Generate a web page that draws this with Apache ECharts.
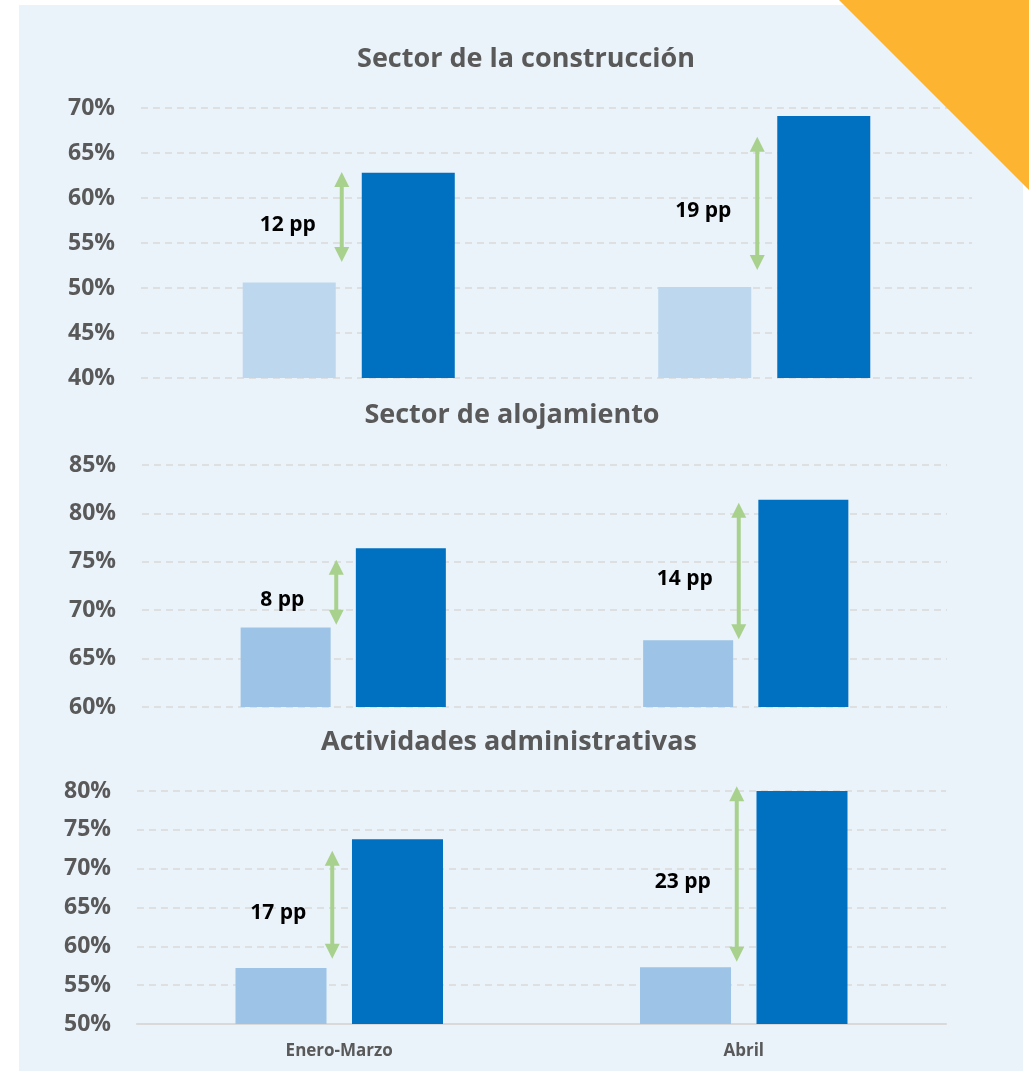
<!DOCTYPE html>
<html>
<head>
<meta charset="utf-8">
<script src="https://cdn.jsdelivr.net/npm/echarts/dist/echarts.min.js"></script>
<style>
html, body { margin: 0; padding: 0; background: #fff; }
#main { width: 1029px; height: 1071px; }
</style>
</head>
<body>
<div id="main"></div>
<script>
var categories = ['Enero-Marzo', 'Abril'];

// tasas por sector (%)
var construccionPrevio = [50.6, 50.1];
var construccionActual = [62.8, 69.1];
var alojamientoPrevio = [68.2, 66.9];
var alojamientoActual = [76.4, 81.4];
var administrativasPrevio = [57.2, 57.3];
var administrativasActual = [73.8, 80.0];

// flechas: [categoria, extremo superior, extremo inferior]
var construccionFlechas = [[0, 62.9, 52.9], [1, 66.8, 52.0]];
var alojamientoFlechas = [[0, 75.2, 68.5], [1, 81.1, 67.0]];
var administrativasFlechas = [[0, 72.3, 58.4], [1, 80.6, 58.0]];
var construccionDif = ['12 pp', '19 pp'];
var alojamientoDif = ['8 pp', '14 pp'];
var administrativasDif = ['17 pp', '23 pp'];

var titulos = ['Sector de la construcción', 'Sector de alojamiento', 'Actividades administrativas'];

var gris = '#595959';
var fuente = '"Open Sans", "Noto Sans", sans-serif';
var verde = '#A9D18E';

var chart = echarts.init(document.getElementById('main'));

function flecha(etiquetas) {
    return function (params, api) {
        var top = api.coord([api.value(0), api.value(1)]);
        var bottom = api.coord([api.value(0), api.value(2)]);
        var x = top[0] - 7;
        var head = 15, half = 7.5;
        var midY = (top[1] + bottom[1]) / 2;
        return {
            type: 'group',
            children: [
                {type: 'line', shape: {x1: x, y1: top[1] + head - 1, x2: x, y2: bottom[1] - head + 1},
                    style: {stroke: verde, lineWidth: 4}},
                {type: 'polygon', shape: {points: [[x, top[1]], [x - half, top[1] + head], [x + half, top[1] + head]]},
                    style: {fill: verde}},
                {type: 'polygon', shape: {points: [[x, bottom[1]], [x - half, bottom[1] - head], [x + half, bottom[1] - head]]},
                    style: {fill: verde}},
                {type: 'text', style: {text: etiquetas[params.dataIndex], x: x - 54, y: midY + 8,
                    align: 'center', verticalAlign: 'middle', fill: '#000',
                    fontSize: 21, fontWeight: 'bold', fontFamily: fuente}}
            ]
        };
    };
}

function ejeY(idx, min, max) {
    return {
        type: 'value', gridIndex: idx, min: min, max: max, interval: 5,
        axisLine: {show: false}, axisTick: {show: false},
        axisLabel: {formatter: '{value}%', color: gris, fontSize: 23, fontWeight: 'bold', fontFamily: fuente, margin: 26},
        splitLine: {lineStyle: {color: '#D9D9D9', type: [7, 5], width: 1.5}}
    };
}

function ejeX(idx, visible) {
    return {
        type: 'category', gridIndex: idx, data: categories,
        axisLine: {show: visible, lineStyle: {color: '#D9D9D9', width: 2}},
        axisTick: {show: false},
        axisLabel: {show: visible, color: gris, fontSize: 17, fontWeight: 'bold', fontFamily: fuente, margin: 19}
    };
}

function barras(idx, datos, color, ancho) {
    return {
        type: 'bar', xAxisIndex: idx, yAxisIndex: idx, data: datos,
        barWidth: ancho, barGap: '28%', itemStyle: {color: color}, silent: true
    };
}

function flechas(idx, datos, etiquetas) {
    return {
        type: 'custom', xAxisIndex: idx, yAxisIndex: idx, data: datos,
        renderItem: flecha(etiquetas), clip: false, z: 5, silent: true
    };
}

function titulo(texto, cx, cy) {
    return {
        text: texto, left: cx, top: cy - 11, textAlign: 'center', padding: 0,
        textStyle: {color: gris, fontSize: 27, fontWeight: 'bold', fontFamily: fuente}
    };
}

chart.setOption({
    animation: false,
    backgroundColor: '#fff',
    graphic: [
        {type: 'rect', z: -100, shape: {x: 19, y: 5, width: 1004, height: 1066}, style: {fill: '#EAF2FA'}},
        {type: 'polygon', z: 100, shape: {points: [[839, 0], [1029, 0], [1029, 190]]}, style: {fill: '#FCB431'}}
    ],
    title: [
        titulo(titulos[0], 526, 57),
        titulo(titulos[1], 512, 413),
        titulo(titulos[2], 509, 740)
    ],
    grid: [
        {left: 141, right: 57, top: 108, height: 270, containLabel: false, outerBoundsMode: 'none'},
        {left: 142, right: 82, top: 465, height: 242, containLabel: false, outerBoundsMode: 'none'},
        {left: 137, right: 83, top: 791, height: 233, containLabel: false, outerBoundsMode: 'none'}
    ],
    xAxis: [ejeX(0, false), ejeX(1, false), ejeX(2, true)],
    yAxis: [ejeY(0, 40, 70), ejeY(1, 60, 85), ejeY(2, 50, 80)],
    series: [
        barras(0, construccionPrevio, '#BDD7EE', 93),
        barras(0, construccionActual, '#0070C0', 93),
        barras(1, alojamientoPrevio, '#9DC3E6', 90),
        barras(1, alojamientoActual, '#0070C0', 90),
        barras(2, administrativasPrevio, '#9DC3E6', 91),
        barras(2, administrativasActual, '#0070C0', 91),
        flechas(0, construccionFlechas, construccionDif),
        flechas(1, alojamientoFlechas, alojamientoDif),
        flechas(2, administrativasFlechas, administrativasDif)
    ]
});

window.addEventListener('resize', function () {
    chart.resize();
});
</script>
</body>
</html>
